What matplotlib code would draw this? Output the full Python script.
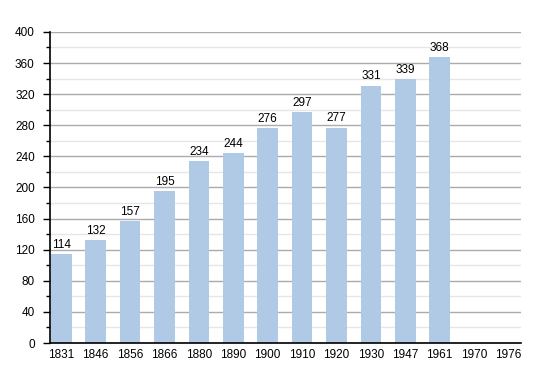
import matplotlib
matplotlib.use("Agg")
import matplotlib.pyplot as plt
import numpy as np
from matplotlib.ticker import MultipleLocator

plt.rcParams.update({
    "font.family": ["Liberation Sans", "DejaVu Sans"],
    "font.size": 8.5,
})

years = ["1831", "1846", "1856", "1866", "1880", "1890", "1900", "1910",
         "1920", "1930", "1947", "1961", "1970", "1976"]
population = [114, 132, 157, 195, 234, 244, 276, 297, 277, 331, 339, 368, None, None]

BAR_C = "#b0c9e4"

fig = plt.figure(figsize=(5.5, 3.73), dpi=100)
ax = fig.add_axes([0.0909, 0.0804, 0.856, 0.834])

x = np.arange(len(years))
vals = [v if v is not None else 0 for v in population]
ax.bar(x, vals, width=0.6, color=BAR_C, zorder=3)
for xi, v in zip(x, population):
    if v is not None:
        ax.text(xi, v + 4, str(v), ha="center", va="bottom", fontsize=8.5, zorder=4)

ax.set_xlim(-0.33, len(years) - 0.64)
ax.set_ylim(0, 400)
ax.set_xticks(x)
ax.set_xticklabels(years)
ax.tick_params(axis="x", length=0, pad=4)
ax.yaxis.set_major_locator(MultipleLocator(40))
ax.yaxis.set_minor_locator(MultipleLocator(20))
ax.tick_params(axis="y", which="major", length=5, width=1, pad=6)
ax.tick_params(axis="y", which="minor", length=3, width=1)
ax.grid(axis="y", which="major", color="#ababab", lw=1, zorder=1)
ax.grid(axis="y", which="minor", color="#e6e6e6", lw=1, zorder=1)
for s in ["top", "right"]:
    ax.spines[s].set_visible(False)
for s in ["left", "bottom"]:
    ax.spines[s].set_linewidth(1.2)
    ax.spines[s].set_zorder(5)

fig.savefig("out.png", dpi=100)
